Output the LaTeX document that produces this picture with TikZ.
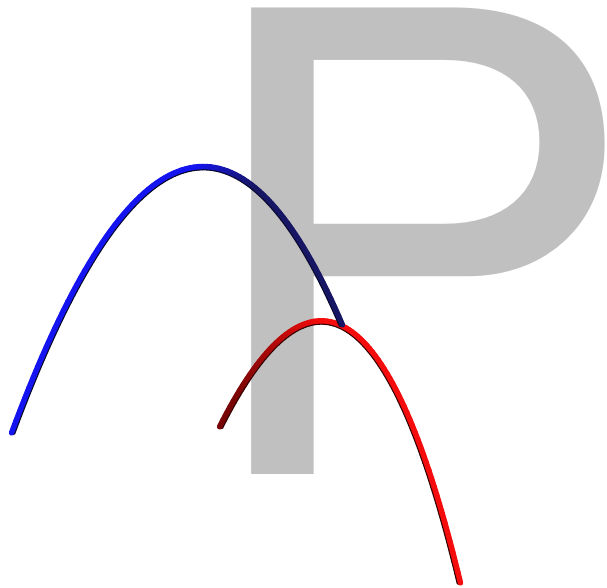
\documentclass[tikz,border=0pt]{standalone}
\usepackage{fontspec}
\setmainfont{TeX Gyre Heros}
\definecolor{pgray}{RGB}{192,192,192}
\definecolor{bbright}{RGB}{20,20,240}
\definecolor{bdark}{RGB}{22,22,100}
\definecolor{bshade}{RGB}{8,8,45}
\definecolor{rbright}{RGB}{245,12,12}
\definecolor{rdark}{RGB}{120,5,5}
\definecolor{rshade}{RGB}{50,0,0}
\tikzset{tubecore/.style={line width=5.4pt, line cap=round},
         tubeedge/.style={line width=3pt, line cap=round}}
\begin{document}
\begin{tikzpicture}[x=1pt,y=-1pt]
\useasboundingbox (0,0) rectangle (607,588);
\node[anchor=base west, inner sep=0pt, text=pgray, font=\fontsize{640}{640}\selectfont] (p) at (190,474) {\scalebox{1.05}[1]{P}};
% red tube: quadratic Bezier (220,427) (357,155) (460,583)
\foreach \pass in {0,1}{
\foreach \i in {0,...,79}{
  \pgfmathsetmacro\ta{\i/80}
  \pgfmathsetmacro\tb{(\i+1)/80}
  \pgfmathsetmacro\xa{(1-\ta)^2*220+2*\ta*(1-\ta)*357+\ta^2*460}
  \pgfmathsetmacro\ya{(1-\ta)^2*427+2*\ta*(1-\ta)*155+\ta^2*583}
  \pgfmathsetmacro\xb{(1-\tb)^2*220+2*\tb*(1-\tb)*357+\tb^2*460}
  \pgfmathsetmacro\yb{(1-\tb)^2*427+2*\tb*(1-\tb)*155+\tb^2*583}
  \pgfmathsetmacro\len{sqrt((\xb-\xa)^2+(\yb-\ya)^2)}
  \pgfmathsetmacro\nx{-(\yb-\ya)/\len}
  \pgfmathsetmacro\ny{(\xb-\xa)/\len}
  \pgfmathtruncatemacro\m{100*min(1,max(0,(\ta-0.05)/0.33))}
  \ifnum\pass=0
    \draw[tubeedge, color=rshade] (\xa+1.9*\nx,\ya+1.9*\ny) -- (\xb+1.9*\nx,\yb+1.9*\ny);
  \else
    \draw[tubecore, color=rbright!\m!rdark] (\xa-0.5*\nx,\ya-0.5*\ny) -- (\xb-0.5*\nx,\yb-0.5*\ny);
  \fi
}}
% blue tube: quadratic Bezier (12,433) (187,-38) (342,325)
\foreach \pass in {0,1}{
\foreach \i in {0,...,79}{
  \pgfmathsetmacro\ta{\i/80}
  \pgfmathsetmacro\tb{(\i+1)/80}
  \pgfmathsetmacro\xa{(1-\ta)^2*12+2*\ta*(1-\ta)*187+\ta^2*342}
  \pgfmathsetmacro\ya{(1-\ta)^2*433+2*\ta*(1-\ta)*(-38)+\ta^2*325}
  \pgfmathsetmacro\xb{(1-\tb)^2*12+2*\tb*(1-\tb)*187+\tb^2*342}
  \pgfmathsetmacro\yb{(1-\tb)^2*433+2*\tb*(1-\tb)*(-38)+\tb^2*325}
  \pgfmathsetmacro\len{sqrt((\xb-\xa)^2+(\yb-\ya)^2)}
  \pgfmathsetmacro\nx{-(\yb-\ya)/\len}
  \pgfmathsetmacro\ny{(\xb-\xa)/\len}
  \pgfmathtruncatemacro\m{100*min(1,max(0,(0.72-\ta)/0.17))}
  \ifnum\pass=0
    \draw[tubeedge, color=bshade] (\xa+1.9*\nx,\ya+1.9*\ny) -- (\xb+1.9*\nx,\yb+1.9*\ny);
  \else
    \draw[tubecore, color=bbright!\m!bdark] (\xa-0.5*\nx,\ya-0.5*\ny) -- (\xb-0.5*\nx,\yb-0.5*\ny);
  \fi
}}
\end{tikzpicture}
\end{document}
